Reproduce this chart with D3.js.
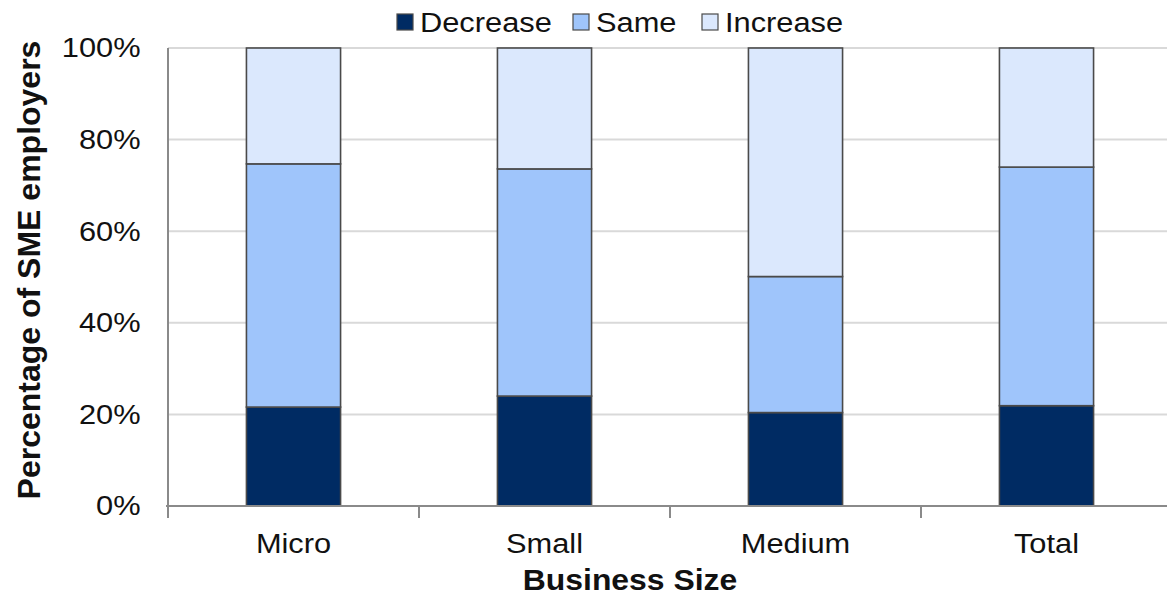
<!DOCTYPE html>
<html>
<head>
<meta charset="utf-8">
<script src="https://cdn.jsdelivr.net/npm/d3@7"></script>
<style>
  html, body { margin: 0; padding: 0; background: #fff; }
  svg { display: block; }
  text { font-family: "Liberation Sans", Arial, sans-serif; fill: #111; }
</style>
</head>
<body>
<svg id="chart" width="1167" height="598"></svg>
<script>
// Share of SME employers by change in headcount, per business size
const categories = ["Micro", "Small", "Medium", "Total"];
const seriesNames = ["Decrease", "Same", "Increase"];
const decrease = [21.6, 24.0, 20.4, 21.9];
const same     = [53.1, 49.6, 29.7, 52.1];
const increase = [25.3, 26.4, 49.9, 26.0];
const yTicks = [0, 20, 40, 60, 80, 100];
const colors = ["#002b63", "#9fc5fb", "#dbe8fd"];

const svg = d3.select("#chart");
const stretch = 1.1;  // slightly widened lettering

const x = d3.scaleBand().domain(categories).range([168, 1172]).padding(0);
const y = d3.scaleLinear().domain([0, 100]).range([506, 48]);
const barW = x.bandwidth() * 0.375;

const rows = categories.map((c, i) => ({
  cat: c, Decrease: decrease[i], Same: same[i], Increase: increase[i]
}));
const stacked = d3.stack().keys(seriesNames)(rows);

// gridlines
svg.append("g").selectAll("line")
  .data(yTicks.filter(t => t > 0))
  .join("line")
  .attr("x1", 168).attr("x2", 1172)
  .attr("y1", d => y(d)).attr("y2", d => y(d))
  .attr("stroke", "#d9d9d9").attr("stroke-width", 2);

// stacked bars
svg.append("g").selectAll("g")
  .data(stacked)
  .join("g")
  .attr("fill", (d, i) => colors[i])
  .selectAll("rect")
  .data(d => d)
  .join("rect")
  .attr("x", d => x(d.data.cat) + (x.bandwidth() - barW) / 2)
  .attr("width", barW)
  .attr("y", d => y(d[1]))
  .attr("height", d => y(d[0]) - y(d[1]))
  .attr("stroke", "#4a4a4a")
  .attr("stroke-width", 1.6);

// y axis
const yAxis = svg.append("g")
  .attr("transform", "translate(168,0)")
  .call(d3.axisLeft(y).tickValues(yTicks).tickSize(0).tickPadding(25)
    .tickFormat(d => d + "%"));
yAxis.select(".domain").remove();
yAxis.selectAll("text")
  .attr("font-size", 28)
  .attr("font-family", "Liberation Sans, Arial, sans-serif")
  .attr("fill", "#111")
  .attr("transform", `scale(${stretch},1)`);
svg.append("line")
  .attr("x1", 168).attr("x2", 168).attr("y1", 48).attr("y2", 518)
  .attr("stroke", "#8a8a8a").attr("stroke-width", 2);

// x axis
svg.append("line")
  .attr("x1", 166).attr("x2", 1172).attr("y1", 506).attr("y2", 506)
  .attr("stroke", "#8a8a8a").attr("stroke-width", 2);
svg.append("g").selectAll("line")
  .data(categories.slice(1))
  .join("line")
  .attr("x1", d => x(d)).attr("x2", d => x(d))
  .attr("y1", 506).attr("y2", 518)
  .attr("stroke", "#8a8a8a").attr("stroke-width", 2);
svg.append("g").selectAll("text")
  .data(categories)
  .join("text")
  .attr("transform", d => `translate(${x(d) + x.bandwidth() / 2},553) scale(${stretch},1)`)
  .attr("text-anchor", "middle")
  .attr("font-size", 28)
  .text(d => d);

// axis titles
svg.append("text")
  .attr("transform", `translate(630,590) scale(${stretch},1)`)
  .attr("text-anchor", "middle")
  .attr("font-size", 29)
  .attr("font-weight", "bold")
  .text("Business Size");
svg.append("text")
  .attr("transform", "translate(40,270) rotate(-90)")
  .attr("text-anchor", "middle")
  .attr("font-size", 32)
  .attr("font-weight", "bold")
  .text("Percentage of SME employers");

// legend
const legendX = [397, 573, 702];
const leg = svg.append("g").selectAll("g")
  .data(seriesNames)
  .join("g")
  .attr("transform", (d, i) => `translate(${legendX[i]},0)`);
leg.append("rect")
  .attr("x", 0).attr("y", 14).attr("width", 16).attr("height", 16)
  .attr("fill", (d, i) => colors[i])
  .attr("stroke", "#4a4a4a").attr("stroke-width", 1.2);
leg.append("text")
  .attr("transform", `translate(23,32) scale(${stretch},1)`)
  .attr("font-size", 28)
  .text(d => d);
</script>
</body>
</html>
